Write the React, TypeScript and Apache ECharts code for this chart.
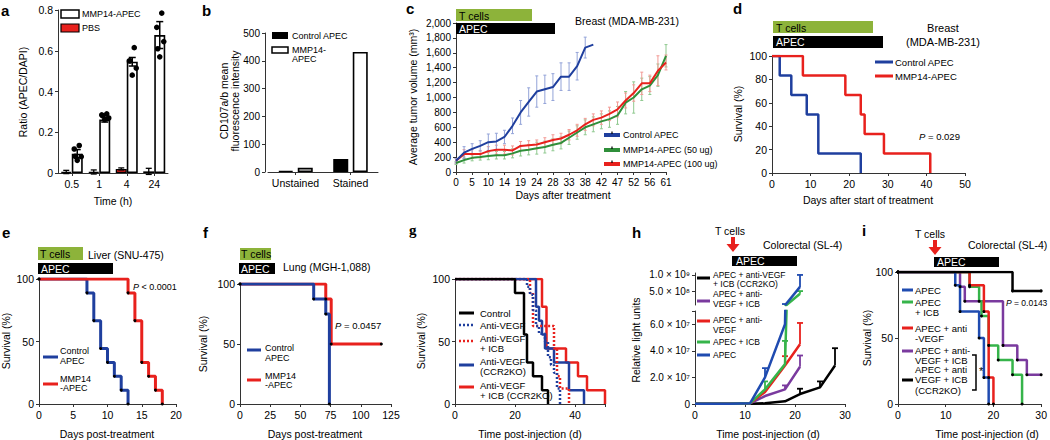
import React, { useEffect, useRef } from 'react';
import * as echarts from 'echarts';

const FONT = '"Liberation Sans", Arial, Helvetica, sans-serif';
const BLUE = '#1f3f9e';
const RED = '#e8211d';
const TCELL_GREEN = '#8db33a';
const C_GREEN = '#2f8f3a';
const H_GREEN = '#36b44a';
const H_BLUE = '#1f4bb0';
const PURPLE = '#7a3a9e';
const AX = '#333';

// ---------- panel a ----------
const aCategories = ['0.5', '1', '4', '24'];
const aMMP14 = [0.095, 0.262, 0.546, 0.677];
const aMMP14Err = [0.02, 0.012, 0.021, 0.066];
const aPBS = [0.005, 0.005, 0.02, 0.008];
const aPBSErr = [0.008, 0.01, 0.005, 0.015];
const aDots = [
  [0.135, 0.118, 0.082, 0.08, 0.062],
  [0.29, 0.285, 0.28, 0.27, 0.262],
  [0.615, 0.55, 0.55, 0.515, 0.48],
  [0.785, 0.715, 0.61, 0.645, 0.57],
];

// ---------- panel b ----------
const bCategories = ['Unstained', 'Stained'];
const bControl = [4, 47];
const bMMP14 = [15, 432];

// ---------- panel c ----------
const cDays = ['0', '3', '5', '8', '10', '12', '14', '17', '19', '21', '24', '26', '28', '31', '33', '35', '38', '40', '42', '45', '47', '49', '52', '54', '56', '59', '61'];
const cControl = [150, 260, 310, 350, 400, 410, 470, 620, 800, 940, 1080, 1110, 1140, 1280, 1280, 1420, 1670, 1710];
const cControlErr = [30, 80, 70, 70, 110, 110, 90, 105, 160, 190, 210, 190, 180, 185, 185, 185, 140, 0];
const c50 = [120, 160, 190, 200, 215, 225, 225, 250, 285, 300, 320, 335, 365, 390, 460, 530, 600, 640, 680, 710, 760, 930, 1000, 1110, 1160, 1300, 1560];
const c50Err = [20, 40, 40, 40, 50, 50, 50, 60, 70, 70, 80, 80, 80, 80, 90, 90, 100, 100, 100, 110, 120, 150, 210, 150, 120, 150, 150];
const c100 = [150, 240, 240, 240, 280, 300, 300, 290, 350, 360, 370, 400, 430, 450, 500, 560, 640, 700, 730, 780, 840, 960, 1060, 1190, 1190, 1360, 1470];
const c100Err = [30, 60, 60, 50, 60, 60, 60, 60, 60, 60, 60, 60, 70, 70, 70, 80, 80, 80, 90, 90, 100, 100, 110, 150, 110, 200, 100];

// ---------- panel d ----------
const dControlT = [0, 2, 5, 9, 12, 23];
const dControlS = [100, 83.3, 66.7, 50, 16.7, 0];
const dMMP14T = [0, 8, 19, 23, 24, 29, 41];
const dMMP14S = [100, 83.3, 66.7, 50, 33.3, 16.7, 0];

// ---------- panel e ----------
const eControlT = [0, 7, 8, 9, 10, 11, 12, 13];
const eControlS = [100, 88.9, 66.7, 44.4, 33.3, 22.2, 11.1, 0];
const eMMP14T = [0, 13, 14, 15, 16, 17, 18];
const eMMP14S = [100, 88.9, 66.7, 33.3, 22.2, 11.1, 0];

// ---------- panel f ----------
const fControlT = [0, 61, 71, 74];
const fControlS = [100, 87.5, 75, 0];
const fMMP14T = [0, 71, 75.5, 117];
const fMMP14S = [100, 87.5, 50, 50];

// ---------- panel g ----------
const gControlT = [0, 20, 23, 24, 26, 29, 31];
const gControlS = [100, 88.9, 55.6, 33.3, 22.2, 11.1, 0];
const gVegfT = [0, 24, 25, 26, 27, 28, 30, 31, 32, 33, 34, 35];
const gVegfS = [100, 93.8, 87.5, 75, 62.5, 56.3, 50, 37.5, 31.3, 25, 12.5, 0];
const gVegfIcbT = [0, 25, 26, 33, 34, 35, 38];
const gVegfIcbS = [100, 88.9, 62.5, 44.4, 22.2, 12.5, 0];
const gVegfKoT = [0, 27, 28, 29, 30, 33, 38, 43];
const gVegfKoS = [100, 77.8, 66.7, 55.6, 44.4, 33.3, 11.1, 0];
const gVegfIcbKoT = [0, 29, 30.5, 37, 41, 44, 50];
const gVegfIcbKoS = [100, 77.8, 44.4, 33.3, 22.2, 11.1, 0];

// ---------- panel h ----------
const hDays = [0, 7, 11, 14, 18, 21, 25, 28];
const hCCR2KO = [1e5, 1e5, 2e5, 5e5, 2e6, 7.5e6, 1.25e7, 2.9e7];
const hCCR2KOErr = [0, 0, 0, 0, 0, 4e6, 4.5e6, 1.3e7];
const hVegfIcb = [1e5, 1e5, 5e5, 6e6, 1.1e7, 2.8e7, null, null];
const hVegfIcbErr = [0, 0, 0, 0, 3e6, 8.5e6, 0, 0];
const hVegf = [1e5, 1e5, 5e5, 9e6, 2.9e7, 4.5e7, null, null];
const hVegfErr = [0, 0, 0, 0, 7e6, 1.6e7, 0, 0];
const hIcb = [1e5, 1e5, 5e5, 1.1e7, 3.0e7, 4.2e8, null, null];
const hIcbErr = [0, 0, 0, 6e6, 1.75e7, 8e7, 0, 0];
const hApec = [1e5, 1e5, 5e5, 2.0e7, 6.0e7, 6.3e8, null, null];
const hApecErr = [0, 0, 0, 7e6, 4e7, 3.7e8, 0, 0];
const H_BREAK = 7e7; // top of lower axis segment

// ---------- panel i ----------
const iApecT = [0, 12, 13, 17, 18, 19];
const iApecS = [100, 90, 70, 50, 20, 0];
const iIcbT = [0, 15, 17, 17.5, 19, 21, 24, 26];
const iIcbS = [100, 88.9, 77.8, 66.7, 44.4, 33.3, 22.2, 0];
const iVegfT = [0, 15, 18, 19, 20];
const iVegfS = [100, 90, 70, 20, 0];
const iVegfIcbT = [0, 13, 14, 22, 25, 27, 30];
const iVegfIcbS = [100, 88.9, 77.8, 44.4, 33.3, 22.2, 22.2];
const iKoT = [0, 24, 30];
const iKoS = [100, 85.7, 85.7];

// ---------- helpers ----------
const SUP: Record<string, string> = { '0': '⁰', '1': '¹', '2': '²', '3': '³', '4': '⁴', '5': '⁵', '6': '⁶', '7': '⁷', '8': '⁸', '9': '⁹' };
function sci(v: number) {
  if (v === 0) return '0';
  const e = Math.floor(Math.log10(v) + 1e-9);
  const m = v / Math.pow(10, e);
  return `${m.toFixed(1)} × 10${String(e).split('').map((c) => SUP[c]).join('')}`;
}
const km = (t: number[], s: number[]) => t.map((x, i) => [x, s[i]]);
const pairs = (xs: number[], ys: (number | null)[]) =>
  xs.map((x, i) => [x, ys[i]]).filter((p) => p[1] !== null);
const errData = (xs: number[], ys: (number | null)[], es: number[]) =>
  xs.map((x, i) => [x, ys[i], es[i]]).filter((p) => p[1] !== null && (p[2] as number) > 0);
// points needed to draw the part of a series that rises above the axis break
const upperPairs = (xs: number[], ys: (number | null)[]) => {
  const idx = ys.findIndex((v) => v !== null && (v as number) > H_BREAK);
  if (idx < 0) return [];
  const s = Math.max(0, idx - 1);
  return pairs(xs.slice(s), ys.slice(s));
};
const upperErr = (xs: number[], ys: (number | null)[], es: number[]) =>
  errData(xs, ys, es).filter((p) => (p[1] as number) + (p[2] as number) > H_BREAK);

function errRender(offsetPx: number, color: string, cap: number, upOnly: boolean, lw: number) {
  return (_params: any, api: any) => {
    const x = api.value(0);
    const y = api.value(1);
    const e = api.value(2);
    const top = api.coord([x, y + e]);
    const bot = api.coord([x, upOnly ? y : y - e]);
    const cx = top[0] + offsetPx;
    const children: any[] = [
      { type: 'line', shape: { x1: cx, y1: top[1], x2: cx, y2: bot[1] }, style: { stroke: color, lineWidth: lw } },
      { type: 'line', shape: { x1: cx - cap, y1: top[1], x2: cx + cap, y2: top[1] }, style: { stroke: color, lineWidth: lw } },
    ];
    if (!upOnly) children.push({ type: 'line', shape: { x1: cx - cap, y1: bot[1], x2: cx + cap, y2: bot[1] }, style: { stroke: color, lineWidth: lw } });
    return { type: 'group', children };
  };
}

const A_BAR = 11;
const JITTER = [2, -3, -2, 4, 0];

function valAxis(grid: number, min: number, max: number, interval: number | undefined, fs: number, extra: any = {}) {
  const { axisLabel, ...rest } = extra;
  return {
    type: 'value', gridIndex: grid, min, max, interval,
    axisLine: { show: true, onZero: false, lineStyle: { color: AX, width: 1 } },
    axisTick: { show: true, length: 3, lineStyle: { color: AX } },
    axisLabel: { color: '#000', fontFamily: FONT, fontSize: fs, margin: 5, ...(axisLabel || {}) },
    splitLine: { show: false },
    ...rest,
  };
}
function catAxis(grid: number, data: string[], fs: number, extra: any = {}) {
  const { axisLabel, axisTick, ...rest } = extra;
  return {
    type: 'category', gridIndex: grid, data,
    axisLine: { show: true, onZero: false, lineStyle: { color: AX, width: 1 } },
    axisTick: { show: true, length: 3, alignWithLabel: true, lineStyle: { color: AX }, ...(axisTick || {}) },
    axisLabel: { color: '#000', fontFamily: FONT, fontSize: fs, margin: 5, interval: 0, ...(axisLabel || {}) },
    splitLine: { show: false },
    ...rest,
  };
}

const T = (x: number, y: number, text: string, o: any = {}) => ({
  type: 'text', x, y, z: 100,
  style: { text, fill: '#000', fontFamily: FONT, fontSize: 10, align: 'left', verticalAlign: 'middle', ...o },
});
const VT = (x: number, y: number, text: string, o: any = {}) => ({
  type: 'text', x, y, z: 100, rotation: Math.PI / 2,
  style: { text, fill: '#000', fontFamily: FONT, fontSize: 10.5, align: 'center', verticalAlign: 'middle', ...o },
});
const R = (x: number, y: number, w: number, h: number, fill: string, o: any = {}) => ({
  type: 'rect', z: 90, shape: { x, y, width: w, height: h }, style: { fill, ...o },
});
const L = (x1: number, y1: number, x2: number, y2: number, stroke: string, lw = 3, dash?: number[]) => ({
  type: 'line', z: 95, shape: { x1, y1, x2, y2 }, style: { stroke, lineWidth: lw, lineDash: dash },
});
const PL = (label: string, x: number, y: number, serif = false) =>
  T(x, y, label, { fontSize: 15, fontWeight: 'bold', fontFamily: serif ? '"Liberation Serif", serif' : FONT });
const arrow = (x: number, y: number) => ({
  type: 'polygon', z: 95,
  shape: { points: [[x - 2, y], [x + 2, y], [x + 2, y + 7], [x + 6.5, y + 7], [x, y + 15], [x - 6.5, y + 7], [x - 2, y + 7]] },
  style: { fill: RED },
});

function kmSeries(xi: number, data: number[][], color: string, dots: boolean, dash?: number[], width = 2.5) {
  return {
    type: 'line', xAxisIndex: xi, yAxisIndex: xi, data, step: 'end',
    symbol: dots ? 'circle' : 'none', symbolSize: 3, showSymbol: dots,
    itemStyle: { color: '#000' },
    lineStyle: { color, width, type: dash ? dash : 'solid' },
    z: 3,
  };
}

function buildOption(): any {
  const grid = [
    { left: 58, top: 10, width: 110, height: 163 }, // a
    { left: 268, top: 33, width: 110, height: 139 }, // b
    { left: 456, top: 23, width: 210, height: 149 }, // c
    { left: 772, top: 56, width: 193, height: 117 }, // d
    { left: 39, top: 279, width: 137, height: 125 }, // e
    { left: 240, top: 284, width: 151, height: 120 }, // f
    { left: 455, top: 279, width: 150, height: 125 }, // g
    { left: 695, top: 311, width: 150, height: 93 }, // h lower
    { left: 695, top: 273, width: 150, height: 32 }, // h upper
    { left: 898, top: 272, width: 146, height: 132 }, // i
  ];

  const xAxis = [
    catAxis(0, aCategories, 10.5),
    catAxis(1, bCategories, 10.5),
    catAxis(2, cDays, 10, { boundaryGap: false, axisLabel: { interval: 1 }, axisTick: { interval: 1, alignWithLabel: false } }),
    valAxis(3, 0, 50, 10, 10.5),
    valAxis(4, 0, 20, 5, 10.5),
    valAxis(5, 0, 125, 25, 10.5),
    valAxis(6, 0, 50, 20, 10.5, { axisLabel: { formatter: (v: number) => (v % 20 === 0 ? String(v) : '') } }),
    valAxis(7, 0, 30, 10, 10.5),
    { ...valAxis(8, 0, 30, 10, 10), show: false },
    valAxis(9, 0, 30, 10, 10.5),
  ];

  const yAxis = [
    valAxis(0, 0, 0.8, 0.2, 10.5, { axisLabel: { formatter: (v: number) => (v === 0 ? '0' : v.toFixed(1)) } }),
    { ...valAxis(1, 0, 500, 100, 10), offset: 3 },
    valAxis(2, 0, 2000, 200, 10, { axisLabel: { formatter: (v: number) => v.toLocaleString('en-US') } }),
    valAxis(3, 0, 100, 20, 10.5),
    valAxis(4, 0, 100, 50, 10.5),
    valAxis(5, 0, 100, 50, 10.5),
    valAxis(6, 0, 100, 50, 10.5),
    valAxis(7, 0, H_BREAK, 2e7, 10, { axisLabel: { formatter: (v: number) => (v % 2e7 === 0 ? sci(v) : '') } }),
    valAxis(8, H_BREAK, 1.06e9, undefined, 10, {
      axisLabel: { customValues: [5e8, 1e9], formatter: (v: number) => sci(v) },
      axisTick: { show: true, length: 3, lineStyle: { color: AX }, customValues: [5e8, 1e9] },
    }),
    valAxis(9, 0, 100, 50, 10.5),
  ];

  const series: any[] = [];

  // a
  series.push(
    { type: 'bar', xAxisIndex: 0, yAxisIndex: 0, data: aPBS, barWidth: A_BAR, barGap: '0%', itemStyle: { color: RED, borderColor: '#000', borderWidth: 1.3 }, z: 2 },
    { type: 'bar', xAxisIndex: 0, yAxisIndex: 0, data: aMMP14, barWidth: A_BAR, barGap: '0%', itemStyle: { color: '#fff', borderColor: '#000', borderWidth: 1.6 }, z: 2 },
    { type: 'custom', xAxisIndex: 0, yAxisIndex: 0, data: aPBS.map((v, i) => [i, v, aPBSErr[i]]), renderItem: errRender(-A_BAR / 2, '#000', 3, false, 1.3), z: 4 },
    { type: 'custom', xAxisIndex: 0, yAxisIndex: 0, data: aMMP14.map((v, i) => [i, v, aMMP14Err[i]]), renderItem: errRender(A_BAR / 2, '#000', 3.5, false, 1.5), z: 4 },
    {
      type: 'custom', xAxisIndex: 0, yAxisIndex: 0, z: 5,
      data: aDots.flatMap((vals, ci) => vals.map((v, k) => [ci, v, k])),
      renderItem: (_p: any, api: any) => {
        const c = api.coord([api.value(0), api.value(1)]);
        const j = JITTER[api.value(2) % JITTER.length];
        return { type: 'circle', shape: { cx: c[0] + A_BAR / 2 + j, cy: c[1], r: 2.8 }, style: { fill: '#000' } };
      },
    },
  );

  // b
  series.push(
    { type: 'bar', xAxisIndex: 1, yAxisIndex: 1, data: bControl, barWidth: 15, barGap: '30%', itemStyle: { color: '#000', borderColor: '#000', borderWidth: 1.3 } },
    { type: 'bar', xAxisIndex: 1, yAxisIndex: 1, data: bMMP14, barWidth: 15, barGap: '30%', itemStyle: { color: '#fff', borderColor: '#000', borderWidth: 1.6 } },
  );

  // c
  series.push(
    { type: 'custom', xAxisIndex: 2, yAxisIndex: 2, z: 1, data: c50.map((v, i) => [i, v, c50Err[i]]), renderItem: errRender(0, '#8fc98f', 1.5, false, 1) },
    { type: 'custom', xAxisIndex: 2, yAxisIndex: 2, z: 1, data: c100.map((v, i) => [i, v, c100Err[i]]), renderItem: errRender(0, '#f29a95', 1.5, false, 1) },
    { type: 'custom', xAxisIndex: 2, yAxisIndex: 2, z: 1, data: cControl.map((v, i) => [i, v, cControlErr[i]]).filter((d) => d[2] > 0), renderItem: errRender(0, '#93a3d8', 1.5, false, 1) },
    { type: 'line', xAxisIndex: 2, yAxisIndex: 2, data: c50, symbol: 'none', lineStyle: { color: C_GREEN, width: 2 }, z: 3 },
    { type: 'line', xAxisIndex: 2, yAxisIndex: 2, data: c100, symbol: 'none', lineStyle: { color: RED, width: 2 }, z: 3 },
    { type: 'line', xAxisIndex: 2, yAxisIndex: 2, data: cControl, symbol: 'none', lineStyle: { color: BLUE, width: 2 }, z: 3 },
  );

  // d
  series.push(kmSeries(3, km(dControlT, dControlS), BLUE, false), kmSeries(3, km(dMMP14T, dMMP14S), RED, false));
  // e
  series.push(kmSeries(4, km(eControlT, eControlS), BLUE, true, undefined, 3), kmSeries(4, km(eMMP14T, eMMP14S), RED, true, undefined, 3));
  // f
  series.push(kmSeries(5, km(fMMP14T, fMMP14S), RED, true, undefined, 3), kmSeries(5, km(fControlT, fControlS), BLUE, true, undefined, 3));
  // g
  series.push(
    kmSeries(6, km(gVegfIcbKoT, gVegfIcbKoS), RED, false, undefined, 2.5),
    kmSeries(6, km(gVegfKoT, gVegfKoS), BLUE, false, undefined, 2.5),
    kmSeries(6, km(gVegfIcbT, gVegfIcbS), RED, false, [2, 2], 2.5),
    kmSeries(6, km(gVegfT, gVegfS), BLUE, false, [2, 2], 2.5),
    kmSeries(6, km(gControlT, gControlS), '#000', false, undefined, 2.5),
  );

  // h
  const hSets: [(number | null)[], number[], string][] = [
    [hCCR2KO, hCCR2KOErr, '#000'],
    [hVegfIcb, hVegfIcbErr, PURPLE],
    [hVegf, hVegfErr, RED],
    [hIcb, hIcbErr, H_GREEN],
    [hApec, hApecErr, H_BLUE],
  ];
  hSets.forEach(([vals, errs, color]) => {
    series.push({ type: 'custom', xAxisIndex: 7, yAxisIndex: 7, clip: true, z: 2, data: errData(hDays, vals, errs), renderItem: errRender(0, color, 3, true, 1.8) });
    series.push({ type: 'line', xAxisIndex: 7, yAxisIndex: 7, clip: true, data: pairs(hDays, vals), symbol: 'none', lineStyle: { color, width: 2.5 }, z: 3 });
    const up = upperPairs(hDays, vals);
    if (up.length) {
      series.push({ type: 'custom', xAxisIndex: 8, yAxisIndex: 8, clip: true, z: 2, data: upperErr(hDays, vals, errs), renderItem: errRender(0, color, 3, true, 1.8) });
      series.push({ type: 'line', xAxisIndex: 8, yAxisIndex: 8, clip: true, data: up, symbol: 'none', lineStyle: { color, width: 2.5 }, z: 3 });
    }
  });

  // i
  series.push(
    kmSeries(9, km(iVegfIcbT, iVegfIcbS), PURPLE, true, undefined, 2.5),
    kmSeries(9, km(iIcbT, iIcbS), H_GREEN, true, undefined, 2.5),
    kmSeries(9, km(iVegfT, iVegfS), RED, true, undefined, 2.5),
    kmSeries(9, km(iApecT, iApecS), H_BLUE, true, undefined, 2.5),
    kmSeries(9, km(iKoT, iKoS), '#000', true, undefined, 2.5),
  );

  const pItalic = (fs: number) => ({ rich: { i: { fontStyle: 'italic', fontFamily: FONT, fontSize: fs } } });

  const graphic: any[] = [
    // a
    PL('a', 1, 10),
    VT(23, 92, 'Ratio (APEC/DAPI)'),
    T(113, 201, 'Time (h)', { align: 'center', fontSize: 10.5 }),
    R(61, 10, 18, 8, '#fff', { stroke: '#000', lineWidth: 1.5 }),
    T(82, 14, 'MMP14-APEC', { fontSize: 9 }),
    R(61, 24, 18, 8, RED, { stroke: '#000', lineWidth: 1.2 }),
    T(82, 28, 'PBS', { fontSize: 9 }),
    // b
    PL('b', 202, 10),
    VT(229, 101, 'CD107a/b mean\nfluorescence intensity', { lineHeight: 11 }),
    R(272, 32, 16, 7, '#000'),
    T(292, 35.5, 'Control APEC', { fontSize: 9 }),
    R(272, 47, 16, 6, '#fff', { stroke: '#000', lineWidth: 1.5 }),
    T(292, 50, 'MMP14-', { fontSize: 9 }),
    T(292, 59, 'APEC', { fontSize: 9 }),
    // c
    PL('c', 406, 8),
    R(456, 9, 76, 12, TCELL_GREEN),
    T(459, 15.5, 'T cells', { fontSize: 10.5 }),
    R(456, 23, 99, 11, '#000'),
    T(459, 29, 'APEC', { fontSize: 10.5, fill: '#fff' }),
    T(627, 21, 'Breast (MDA-MB-231)', { align: 'center', fontSize: 10.5 }),
    VT(413, 97, 'Average tumor volume (mm³)'),
    T(563, 195, 'Days after treatment', { align: 'center', fontSize: 10.5 }),
    L(604, 135, 620, 135, BLUE, 4), L(612, 131.5, 612, 134, '#000', 1.2),
    T(623, 135, 'Control APEC', { fontSize: 9 }),
    L(604, 150, 620, 150, C_GREEN, 4), L(612, 146.5, 612, 149, '#000', 1.2),
    T(623, 150, 'MMP14-APEC (50 ug)', { fontSize: 9 }),
    L(604, 164, 620, 164, RED, 4), L(612, 160.5, 612, 163, '#000', 1.2),
    T(623, 164, 'MMP14-APEC (100 ug)', { fontSize: 9 }),
    // d
    PL('d', 733, 8),
    R(773, 21, 100, 12, TCELL_GREEN),
    T(776, 27.5, 'T cells', { fontSize: 10.5 }),
    R(773, 36, 110, 12, '#000'),
    T(776, 42, 'APEC', { fontSize: 10.5, fill: '#fff' }),
    T(943, 28, 'Breast', { align: 'center', fontSize: 11 }),
    T(943, 42, '(MDA-MB-231)', { align: 'center', fontSize: 11 }),
    L(875, 62, 893, 62, BLUE, 3),
    T(895, 62, 'Control APEC', { fontSize: 9.5 }),
    L(875, 76, 893, 76, RED, 3),
    T(895, 76, 'MMP14-APEC', { fontSize: 9.5 }),
    T(919, 136, '{i|P} = 0.029', { fontSize: 9.5, ...pItalic(9.5) }),
    VT(738, 114, 'Survival (%)'),
    T(868, 200, 'Days after start of treatment', { align: 'center', fontSize: 10.5 }),
    // e
    PL('e', 2, 232),
    R(38, 247, 45, 13, TCELL_GREEN),
    T(40, 254, 'T cells', { fontSize: 10.5 }),
    R(38, 263, 75, 11, '#000'),
    T(41, 268.5, 'APEC', { fontSize: 10.5, fill: '#fff' }),
    T(88, 255, 'Liver (SNU-475)', { fontSize: 10.5 }),
    T(133, 287, '{i|P} < 0.0001', { fontSize: 9, ...pItalic(9) }),
    L(43, 357, 58, 357, BLUE, 3),
    T(60, 351, 'Control', { fontSize: 9 }), T(60, 361, 'APEC', { fontSize: 9 }),
    L(43, 384, 58, 384, RED, 3),
    T(60, 379, 'MMP14', { fontSize: 9 }), T(60, 388, '-APEC', { fontSize: 9 }),
    VT(6, 341, 'Survival (%)'),
    T(107, 434, 'Days post-treatment', { align: 'center', fontSize: 10.5 }),
    // f
    PL('f', 203, 232),
    R(240, 248, 31, 12, TCELL_GREEN),
    T(241, 254, 'T cells', { fontSize: 10.5 }),
    R(239, 263, 36, 11, '#000'),
    T(241, 268.5, 'APEC', { fontSize: 10.5, fill: '#fff' }),
    T(283, 267, 'Lung (MGH-1,088)', { fontSize: 10.5 }),
    T(335, 325, '{i|P} = 0.0457', { fontSize: 9.5, ...pItalic(9.5) }),
    L(247, 350, 261, 350, BLUE, 3),
    T(265, 348, 'Control', { fontSize: 9 }), T(265, 358, 'APEC', { fontSize: 9 }),
    L(247, 380, 261, 380, RED, 3),
    T(265, 376, 'MMP14', { fontSize: 9 }), T(265, 385, '-APEC', { fontSize: 9 }),
    VT(203, 344, 'Survival (%)'),
    T(315, 434, 'Days post-treatment', { align: 'center', fontSize: 10.5 }),
    // g
    PL('g', 409, 230, true),
    L(459, 313, 474, 313, '#000', 3),
    T(480, 313, 'Control', { fontSize: 9.5 }),
    L(459, 325, 474, 325, BLUE, 2.5, [2, 2]),
    T(480, 325, 'Anti-VEGF', { fontSize: 9.5 }),
    L(459, 341, 474, 341, RED, 2.5, [2, 2]),
    T(480, 338, 'Anti-VEGF', { fontSize: 9.5 }), T(480, 348, '+ ICB', { fontSize: 9.5 }),
    L(459, 365, 474, 365, BLUE, 3),
    T(480, 361, 'Anti-VEGF', { fontSize: 9.5 }), T(480, 371, '(CCR2KO)', { fontSize: 9.5 }),
    L(459, 387, 474, 387, RED, 3),
    T(480, 385, 'Anti-VEGF', { fontSize: 9.5 }), T(480, 395, '+ ICB (CCR2KO)', { fontSize: 9.5 }),
    VT(421, 341, 'Survival (%)'),
    T(530, 434, 'Time post-injection (d)', { align: 'center', fontSize: 10.5 }),
    // h
    PL('h', 632, 232),
    T(730, 231, 'T cells', { align: 'center', fontSize: 10.5 }),
    arrow(733, 237),
    R(732, 256, 65, 10, '#000'),
    T(736, 261, 'APEC', { fontSize: 10.5, fill: '#fff' }),
    T(763, 245, 'Colorectal (SL-4)', { fontSize: 10.5 }),
    L(697, 278, 710, 278, '#000', 3),
    T(713, 274.5, 'APEC + anti-VEGF', { fontSize: 8.5 }), T(713, 284, '+ ICB (CCR2KO)', { fontSize: 8.5 }),
    L(697, 301, 710, 301, PURPLE, 3),
    T(713, 294, 'APEC + anti-', { fontSize: 8.5 }), T(713, 304, 'VEGF + ICB', { fontSize: 8.5 }),
    L(697, 321, 710, 321, RED, 3),
    T(713, 320, 'APEC + anti-', { fontSize: 8.5 }), T(713, 330, 'VEGF', { fontSize: 8.5 }),
    L(697, 342, 710, 342, H_GREEN, 3),
    T(713, 342, 'APEC + ICB', { fontSize: 8.5 }),
    L(697, 355, 710, 355, H_BLUE, 3),
    T(713, 355, 'APEC', { fontSize: 8.5 }),
    VT(636, 340, 'Relative light units'),
    T(768, 434, 'Time post-injection (d)', { align: 'center', fontSize: 10.5 }),
    // i
    PL('i', 862, 230),
    T(930, 234, 'T cells', { align: 'center', fontSize: 10.5 }),
    arrow(935, 240),
    R(934, 257, 65, 10, '#000'),
    T(937, 262, 'APEC', { fontSize: 10.5, fill: '#fff' }),
    T(968, 245, 'Colorectal (SL-4)', { fontSize: 10.5 }),
    T(1006, 303, '{i|P} = 0.0143', { fontSize: 8.5, ...pItalic(8.5) }),
    { type: 'polyline', z: 95, shape: { points: [[972, 355], [976, 355], [976, 390], [972, 390]] }, style: { stroke: '#000', lineWidth: 1.5, fill: null } },
    T(979, 371, '*', { fontSize: 11 }),
    L(902, 290, 913, 290, H_BLUE, 3),
    T(915, 290, 'APEC', { fontSize: 9.5 }),
    L(902, 302, 913, 302, H_GREEN, 3),
    T(915, 302, 'APEC', { fontSize: 9.5 }), T(915, 312, '+ ICB', { fontSize: 9.5 }),
    L(902, 328, 913, 328, RED, 3),
    T(915, 328, 'APEC + anti', { fontSize: 9.5 }), T(915, 338, '-VEGF', { fontSize: 9.5 }),
    L(902, 351, 913, 351, PURPLE, 3),
    T(915, 350, 'APEC + anti-', { fontSize: 9.5 }), T(915, 360, 'VEGF + ICB', { fontSize: 9.5 }),
    T(915, 369, 'APEC + anti', { fontSize: 9.5 }),
    L(902, 380, 913, 380, '#000', 3),
    T(915, 379, 'VEGF + ICB', { fontSize: 9.5 }), T(915, 390, '(CCR2KO)', { fontSize: 9.5 }),
    VT(867, 338, 'Survival (%)'),
    T(987, 434, 'Time post-injection (d)', { align: 'center', fontSize: 10.5 }),
  ];

  return {
    animation: false,
    backgroundColor: '#fff',
    textStyle: { fontFamily: FONT },
    grid,
    xAxis,
    yAxis,
    series,
    graphic,
  };
}

export default function App() {
  const ref = useRef<HTMLDivElement>(null);
  useEffect(() => {
    if (!ref.current) return;
    const chart = echarts.init(ref.current, undefined, { renderer: 'svg' });
    chart.setOption(buildOption());
    return () => chart.dispose();
  }, []);
  return <div ref={ref} style={{ position: 'absolute', left: 0, top: 0, width: 1050, height: 440 }} />;
}
